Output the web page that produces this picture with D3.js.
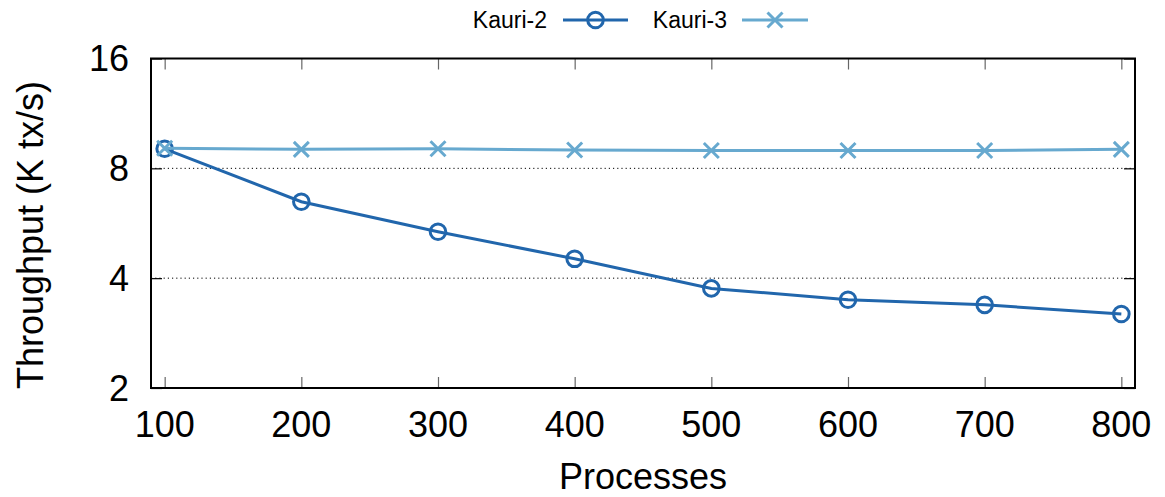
<!DOCTYPE html>
<html>
<head>
<meta charset="utf-8">
<script src="https://cdn.jsdelivr.net/npm/d3@7"></script>
<style>
  html, body { margin: 0; padding: 0; background: #fff; }
  svg { display: block; font-family: "Liberation Sans", Arial, Helvetica, sans-serif; }
</style>
</head>
<body>
<svg id="chart" width="1165" height="497"></svg>
<script>
const processes = [100, 200, 300, 400, 500, 600, 700, 800];
const kauri2 = [9.05, 6.48, 5.36, 4.52, 3.75, 3.49, 3.38, 3.19];
const kauri3 = [9.08, 9.02, 9.05, 8.98, 8.95, 8.95, 8.95, 9.02];
const yTicks = [2, 4, 8, 16];
const xTicks = [100, 200, 300, 400, 500, 600, 700, 800];
const seriesNames = ["Kauri-2", "Kauri-3"];
const seriesColors = ["#2166ac", "#67a9cf"];

const W = 1165, H = 497;
const L = 151, R = 1135, T = 58.5, B = 388;

const svg = d3.select("#chart");
const x = d3.scaleLinear().domain([90, 810]).range([L, R]);
const y = d3.scaleLog().base(2).domain([2, 16]).range([B, T]);

// gridlines (dotted)
svg.append("g").selectAll("line")
  .data(yTicks.filter(d => d > 2 && d < 16))
  .join("line")
  .attr("x1", L).attr("x2", R)
  .attr("y1", d => y(d)).attr("y2", d => y(d))
  .attr("stroke", "#000").attr("stroke-width", 1)
  .attr("stroke-dasharray", "1.2,3");

// axes with inward ticks
const axL = svg.append("g").attr("transform", `translate(${L},0)`)
  .call(d3.axisRight(y).tickValues(yTicks).tickSize(11).tickFormat(""));
const axR = svg.append("g").attr("transform", `translate(${R},0)`)
  .call(d3.axisLeft(y).tickValues(yTicks).tickSize(11).tickFormat(""));
const axB = svg.append("g").attr("transform", `translate(0,${B})`)
  .call(d3.axisTop(x).tickValues(xTicks).tickSize(11).tickFormat(""));
const axT = svg.append("g").attr("transform", `translate(0,${T})`)
  .call(d3.axisBottom(x).tickValues(xTicks).tickSize(11).tickFormat(""));
[axL, axR, axB, axT].forEach(a => { a.select(".domain").remove(); });
[axL, axR].forEach(a => a.selectAll(".tick line").attr("stroke", "#000").attr("stroke-width", 1.2));
[axB, axT].forEach(a => a.selectAll(".tick line").attr("stroke", "#666").attr("stroke-width", 1.2));

// frame
svg.append("rect").attr("x", L).attr("y", T).attr("width", R - L).attr("height", B - T)
  .attr("fill", "none").attr("stroke", "#000").attr("stroke-width", 2);

// tick labels
svg.append("g").selectAll("text").data(yTicks).join("text")
  .attr("x", 129).attr("y", d => y(d)).attr("dy", "0.36em")
  .attr("text-anchor", "end").attr("font-size", 36).attr("fill", "#000")
  .text(d => d);
svg.append("g").selectAll("text").data(xTicks).join("text")
  .attr("x", d => x(d)).attr("y", 437)
  .attr("text-anchor", "middle").attr("font-size", 36).attr("fill", "#000")
  .text(d => d);

// axis titles
svg.append("text").attr("transform", `translate(43,235) rotate(-90)`)
  .attr("text-anchor", "middle").attr("font-size", 36).attr("fill", "#000")
  .text("Throughput (K tx/s)");
svg.append("text").attr("x", 643).attr("y", 489)
  .attr("text-anchor", "middle").attr("font-size", 36).attr("fill", "#000")
  .text("Processes");

// series
const series = [kauri2, kauri3];
const line = d3.line().x((d, i) => x(processes[i])).y(d => y(d));

function drawMarker(g, type, cx, cy, color) {
  if (type === 0) {
    g.append("circle").attr("cx", cx).attr("cy", cy).attr("r", 7.8)
      .attr("fill", "none").attr("stroke", color).attr("stroke-width", 3);
  } else {
    const s = 7.5;
    g.append("path")
      .attr("d", `M${cx - s},${cy - s}L${cx + s},${cy + s}M${cx - s},${cy + s}L${cx + s},${cy - s}`)
      .attr("stroke", color).attr("stroke-width", 3).attr("fill", "none");
  }
}

series.forEach((vals, si) => {
  const g = svg.append("g");
  g.append("path").datum(vals).attr("d", line)
    .attr("fill", "none").attr("stroke", seriesColors[si]).attr("stroke-width", 3);
  vals.forEach((v, i) => drawMarker(g, si, x(processes[i]), y(v), seriesColors[si]));
});

// legend
const legend = [
  { textRight: 547, x1: 563, x2: 628 },
  { textRight: 727, x1: 742, x2: 808 }
];
legend.forEach((lg, i) => {
  const g = svg.append("g");
  g.append("text").attr("x", lg.textRight).attr("y", 20).attr("dy", "0.36em")
    .attr("text-anchor", "end").attr("font-size", 23).attr("fill", "#000")
    .text(seriesNames[i]);
  g.append("line").attr("x1", lg.x1).attr("x2", lg.x2).attr("y1", 20).attr("y2", 20)
    .attr("stroke", seriesColors[i]).attr("stroke-width", 3);
  drawMarker(g, i, (lg.x1 + lg.x2) / 2, 20, seriesColors[i]);
});
</script>
</body>
</html>
